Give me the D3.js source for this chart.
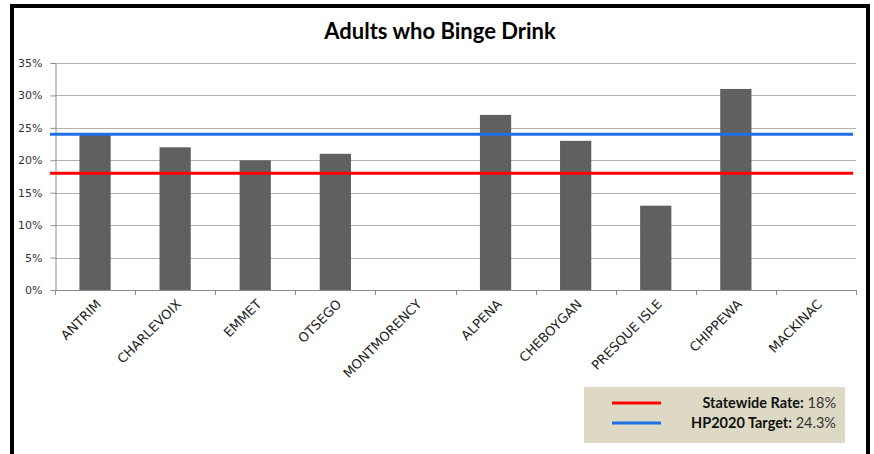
<!DOCTYPE html>
<html>
<head>
<meta charset="utf-8">
<script src="https://cdn.jsdelivr.net/npm/d3@7"></script>
<style>
  html, body { margin: 0; padding: 0; background: #fff; }
  svg { display: block; }
</style>
</head>
<body>
<script>
const categories = ["ANTRIM", "CHARLEVOIX", "EMMET", "OTSEGO", "MONTMORENCY", "ALPENA", "CHEBOYGAN", "PRESQUE ISLE", "CHIPPEWA", "MACKINAC"];
const values = [24, 22, 20, 21, null, 27, 23, 13, 31, null];
const yTicks = [0, 5, 10, 15, 20, 25, 30, 35];
const refLines = [
  { label: "Statewide Rate:", valueText: " 18%", value: 18, color: "#ff0000" },
  { label: "HP2020 Target:", valueText: " 24.3%", value: 24, color: "#1f6fe6" }
];
const title = "Adults who Binge Drink";

const W = 874, H = 454;
const svg = d3.select("body").append("svg").attr("width", W).attr("height", H);

// outer frame
svg.append("path")
  .attr("d", "M12,454 L12,6 L868,6 L868,454")
  .attr("fill", "none").attr("stroke", "#000").attr("stroke-width", 4);

const plot = { left: 55, right: 856, top: 63, bottom: 290 };

const x = d3.scaleBand().domain(categories).range([plot.left, plot.right]).paddingInner(0.61).paddingOuter(0.305);
const xEdge = d3.scaleLinear().domain([0, categories.length]).range([plot.left, plot.right]);
const y = d3.scaleLinear().domain([0, 35]).range([plot.bottom, plot.top]);

// title
svg.append("text").attr("x", 440).attr("y", 39).attr("text-anchor", "middle")
  .style("font-family", "Lato, 'Open Sans', sans-serif").style("font-weight", "bold")
  .style("font-size", "22px").attr("fill", "#000").text(title);

// gridlines
svg.append("g").selectAll("line").data(yTicks.slice(1)).join("line")
  .attr("x1", plot.left).attr("x2", plot.right)
  .attr("y1", d => Math.round(y(d)) + 0.5).attr("y2", d => Math.round(y(d)) + 0.5)
  .attr("stroke", "#b3b3b3").attr("stroke-width", 1);

// y axis
const yAxis = svg.append("g").attr("transform", `translate(${plot.left + 0.5},0)`)
  .call(d3.axisLeft(y).tickValues(yTicks).tickSize(5).tickPadding(8).tickFormat(d => d + "%"));
yAxis.select(".domain").attr("stroke", "#8c8c8c");
yAxis.selectAll(".tick line").attr("stroke", "#8c8c8c");
yAxis.selectAll("text").style("font-family", "'DejaVu Sans', Tahoma, sans-serif").style("font-size", "11px").attr("fill", "#333");

// bars
svg.append("g").selectAll("rect").data(categories.map((c, i) => ({ c, v: values[i] })).filter(d => d.v != null)).join("rect")
  .attr("x", d => x(d.c)).attr("width", x.bandwidth())
  .attr("y", d => y(d.v)).attr("height", d => y(0) - y(d.v))
  .attr("fill", "#606060");

// x axis
const xg = svg.append("g");
xg.append("line").attr("x1", plot.left).attr("x2", plot.right)
  .attr("y1", plot.bottom + 0.5).attr("y2", plot.bottom + 0.5).attr("stroke", "#8c8c8c");
xg.selectAll("line.tk").data(d3.range(categories.length + 1)).join("line").attr("class", "tk")
  .attr("x1", d => Math.round(xEdge(d)) + 0.5).attr("x2", d => Math.round(xEdge(d)) + 0.5)
  .attr("y1", plot.bottom).attr("y2", plot.bottom + 5).attr("stroke", "#8c8c8c");
xg.selectAll("text").data(categories).join("text")
  .attr("transform", d => `translate(${x(d) + x.bandwidth() / 2 + 7},${plot.bottom + 15}) rotate(-45)`)
  .attr("text-anchor", "end")
  .style("font-family", "'DejaVu Sans', Tahoma, sans-serif").style("font-size", "13px").attr("fill", "#222")
  .text(d => d);

// reference lines
svg.append("g").selectAll("line").data(refLines).join("line")
  .attr("x1", plot.left - 5).attr("x2", 853)
  .attr("y1", d => y(d.value)).attr("y2", d => y(d.value))
  .attr("stroke", d => d.color).attr("stroke-width", 3);

// legend
const lg = svg.append("g");
lg.append("rect").attr("x", 584).attr("y", 387).attr("width", 261).attr("height", 56).attr("fill", "#ddd9c4");
refLines.forEach((r, i) => {
  const yy = 403 + i * 20;
  lg.append("line").attr("x1", 612).attr("x2", 661).attr("y1", yy).attr("y2", yy)
    .attr("stroke", r.color).attr("stroke-width", 3);
  const t = lg.append("text").attr("x", 836).attr("y", yy + 5).attr("text-anchor", "end")
    .style("font-family", "Lato, 'Open Sans', sans-serif").style("font-size", "14.5px").attr("fill", "#111");
  t.append("tspan").style("font-weight", "bold").text(r.label);
  t.append("tspan").style("font-weight", "normal").attr("fill", "#333").text(r.valueText);
});
</script>
</body>
</html>
